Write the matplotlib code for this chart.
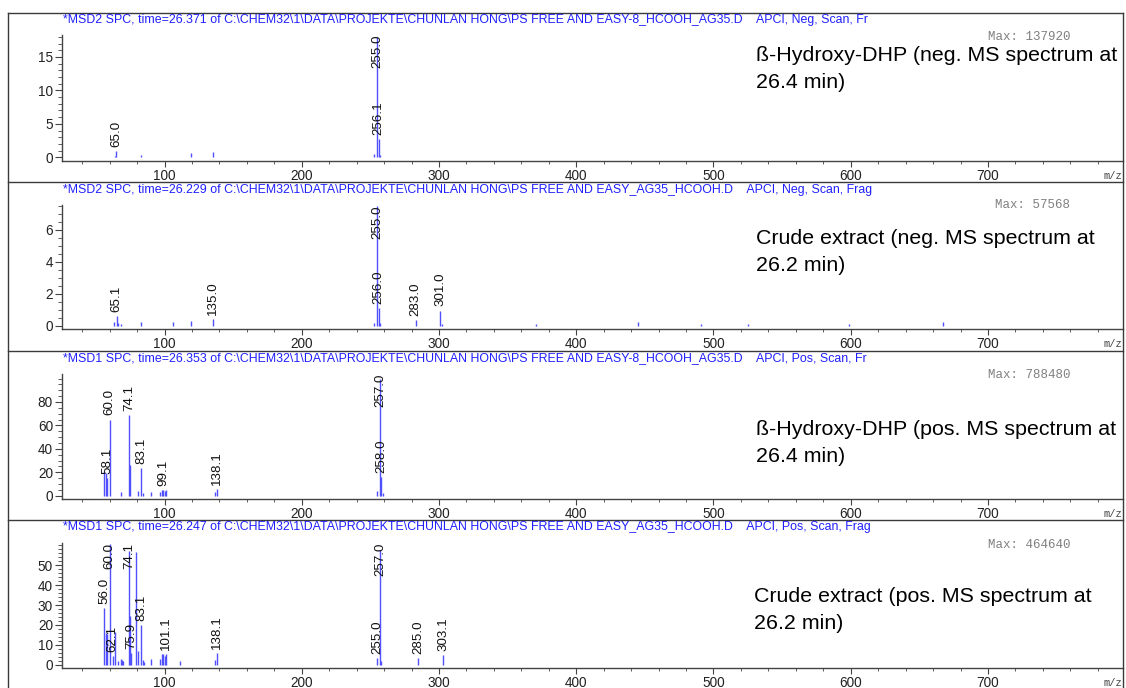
import matplotlib
matplotlib.use("Agg")
import matplotlib.pyplot as plt
from matplotlib.lines import Line2D
from matplotlib.ticker import MultipleLocator

# ---------------- data ----------------
titles = [
    r"*MSD2 SPC, time=26.371 of C:\CHEM32\1\DATA\PROJEKTE\CHUNLAN HONG\PS FREE AND EASY-8_HCOOH_AG35.D    APCI, Neg, Scan, Fr",
    r"*MSD2 SPC, time=26.229 of C:\CHEM32\1\DATA\PROJEKTE\CHUNLAN HONG\PS FREE AND EASY_AG35_HCOOH.D    APCI, Neg, Scan, Frag",
    r"*MSD1 SPC, time=26.353 of C:\CHEM32\1\DATA\PROJEKTE\CHUNLAN HONG\PS FREE AND EASY-8_HCOOH_AG35.D    APCI, Pos, Scan, Fr",
    r"*MSD1 SPC, time=26.247 of C:\CHEM32\1\DATA\PROJEKTE\CHUNLAN HONG\PS FREE AND EASY_AG35_HCOOH.D    APCI, Pos, Scan, Frag",
]
max_texts = ["Max: 137920", "Max: 57568", "Max: 788480", "Max: 464640"]
notes = [
    "ß-Hydroxy-DHP (neg. MS spectrum at\n26.4 min)",
    "Crude extract (neg. MS spectrum at\n26.2 min)",
    "ß-Hydroxy-DHP (pos. MS spectrum at\n26.4 min)",
    "Crude extract (pos. MS spectrum at\n26.2 min)",
]

p1_mz = [64.0, 65.0, 83.0, 119.0, 135.0, 253.0, 255.0, 256.1, 257.0]
p1_int = [0.2, 0.9, 0.4, 0.6, 0.85, 0.5, 18.0, 2.7, 0.4]
p1_lab = [65.0, 255.0, 256.1]

p2_mz = [63.0, 65.1, 66.0, 68.0, 83.0, 106.0, 119.0, 135.0, 253.0, 255.0, 256.0,
         257.0, 283.0, 301.0, 302.0, 371.0, 445.0, 491.0, 525.0, 599.0, 667.0]
p2_int = [0.25, 0.63, 0.2, 0.15, 0.25, 0.25, 0.3, 0.42, 0.2, 7.5, 1.1,
          0.2, 0.38, 0.96, 0.12, 0.12, 0.25, 0.12, 0.15, 0.12, 0.25]
p2_lab = [65.1, 135.0, 255.0, 256.0, 283.0, 301.0]

p3_mz = [56.0, 57.0, 58.1, 60.0, 68.0, 74.1, 75.0, 81.0, 83.1, 84.5, 90.0, 97.0,
         98.0, 99.1, 100.0, 101.0, 137.0, 138.1, 255.0, 257.0, 258.0, 259.0]
p3_int = [21.0, 19.0, 15.0, 65.0, 3.4, 69.0, 26.0, 4.3, 23.4, 2.0, 3.0, 3.0,
          5.0, 5.0, 4.0, 5.0, 3.0, 6.0, 4.0, 100.0, 16.0, 2.0]
p3_lab = [58.1, 60.0, 74.1, 83.1, 99.1, 138.1, 257.0, 258.0]

p4_mz = [56.0, 57.0, 58.0, 60.0, 62.1, 64.0, 66.0, 68.0, 69.0, 70.0, 74.1, 75.0,
         75.9, 79.0, 81.0, 83.1, 84.0, 85.0, 90.0, 97.0, 98.0, 99.0, 100.0, 101.1,
         111.0, 137.0, 138.1, 255.0, 257.0, 258.0, 285.0, 303.1]
p4_int = [28.6, 15.8, 15.5, 60.5, 4.5, 16.3, 1.7, 3.0, 2.5, 2.0, 57.0, 24.5,
          6.0, 56.8, 7.0, 20.0, 2.5, 1.5, 2.8, 3.0, 5.4, 5.4, 4.5, 5.4,
          1.7, 2.5, 5.9, 3.2, 57.5, 2.0, 3.4, 4.7]
p4_lab = [56.0, 60.0, 62.1, 74.1, 75.9, 83.1, 101.1, 138.1, 255.0, 257.0, 285.0, 303.1]

panels_mz = [p1_mz, p2_mz, p3_mz, p4_mz]
panels_int = [p1_int, p2_int, p3_int, p4_int]
panels_lab = [p1_lab, p2_lab, p3_lab, p4_lab]

x_major = [100, 200, 300, 400, 500, 600, 700]

# ---------------- layout ----------------
W, H = 1126, 688
fig = plt.figure(figsize=(W / 100, H / 100), dpi=100)
plt.rcParams['font.family'] = ['Liberation Sans', 'DejaVu Sans']

def fx(px):
    return px / W

def fy(py):
    return 1 - py / H

ax_top = [35, 205, 374, 543]
ax_bot = [160.7, 329, 498.7, 667.7]
ylims = [(-0.51, 18.29), (-0.19, 7.56), (-2.56, 103.9), (-1.51, 61.2)]
ymaj = [5, 2, 20, 10]
ymin = [1, 0.5, 5, 2]
ymax_tick = [15, 6, 80, 50]
title_y = [20.5, 190, 358.5, 527]
max_y = [36.5, 205.5, 375, 544.5]
note_y = [46, 228.5, 420, 586.5]
note_x = [756, 756, 756, 754]
AX_L, AX_R = 62, 1123
XLIM = (25.3, 798.4)

stick_color = '#5050ff'
frame_color = '#3a3a3a'

axes = []
for i in range(4):
    ax = fig.add_axes([fx(AX_L), fy(ax_bot[i]), fx(AX_R - AX_L), (ax_bot[i] - ax_top[i]) / H])
    ax.set_xlim(*XLIM)
    ax.set_ylim(*ylims[i])
    ax.vlines(panels_mz[i], 0, panels_int[i], colors=stick_color, linewidth=1.0)
    for s in ['top', 'right']:
        ax.spines[s].set_visible(False)
    for s in ['left', 'bottom']:
        ax.spines[s].set_color('#444444')
        ax.spines[s].set_linewidth(1.0)
    ax.set_xticks(x_major)
    ax.xaxis.set_minor_locator(MultipleLocator(20))
    yt = [v * ymaj[i] for v in range(int(ymax_tick[i] / ymaj[i]) + 1)]
    ax.set_yticks(yt)
    ax.set_yticklabels([str(int(v)) for v in yt])
    ax.yaxis.set_minor_locator(MultipleLocator(ymin[i]))
    ax.tick_params(axis='both', which='major', labelsize=9.8, colors='#444444',
                   labelcolor='#222222', direction='out')
    ax.tick_params(axis='x', which='major', length=4, pad=2)
    ax.tick_params(axis='x', which='minor', length=2.5, direction='out', colors='#444444')
    ax.tick_params(axis='y', which='major', length=5, pad=1.5)
    ax.tick_params(axis='y', which='minor', length=3, direction='out', colors='#444444')
    ax.patch.set_visible(False)
    axes.append(ax)

    # texts
    fig.text(fx(63), fy(title_y[i]), titles[i], color='#2020ff', fontsize=8.9,
             ha='left', va='center')
    fig.text(fx(1070), fy(max_y[i]), max_texts[i], color='#808080', fontsize=9,
             family='Liberation Mono', ha='right', va='center')
    fig.text(fx(note_x[i]), fy(note_y[i]), notes[i], color='black', fontsize=15.4,
             ha='left', va='top', linespacing=1.55)
    fig.text(fx(1113), fy(ax_bot[i] + 15), "m/z", color='#444444', fontsize=7.5,
             family='Liberation Mono', ha='center', va='center')

# peak labels
fig.canvas.draw()
renderer = fig.canvas.get_renderer()
for i, ax in enumerate(axes):
    ax_bb = ax.get_window_extent(renderer)
    for m in panels_lab[i]:
        h = panels_int[i][panels_mz[i].index(m)]
        t = ax.annotate(f"{m:.1f}", xy=(m, h), xytext=(0, 3), textcoords='offset points',
                        rotation=90, ha='center', va='bottom', fontsize=9.6, color='#111111')
        bb = t.get_window_extent(renderer)
        if bb.y1 > ax_bb.y1:
            t.remove()
            ax.annotate(f"{m:.1f}", xy=(m, ylims[i][1]), xytext=(0, 0),
                        textcoords='offset points', rotation=90, ha='center',
                        va='top', fontsize=9.6, color='#111111')

# frame lines
def hline(py, x0=8, x1=1123):
    fig.add_artist(Line2D([fx(x0), fx(x1)], [fy(py), fy(py)], color=frame_color,
                          linewidth=1.0, transform=fig.transFigure))

def vline(px, y0=13, y1=688):
    fig.add_artist(Line2D([fx(px), fx(px)], [fy(y0), fy(y1)], color=frame_color,
                          linewidth=1.0, transform=fig.transFigure))

for py in [13, 182.3, 351, 519.5]:
    hline(py)
vline(8)
vline(1123)

fig.savefig("out.png", dpi=100)
